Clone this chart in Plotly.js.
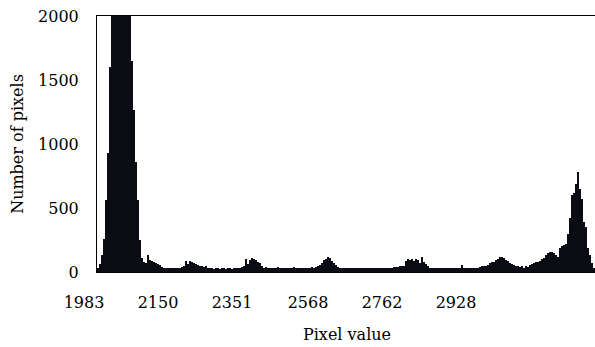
<!DOCTYPE html>
<html>
<head>
<meta charset="utf-8">
<script src="https://cdn.plot.ly/plotly-3.0.1.min.js"></script>
<style>
html,body{margin:0;padding:0;overflow:hidden;background:#fff;}
#chart{width:600px;height:347px;}
</style>
</head>
<body>
<div id="chart"></div>
<script>
// Histogram bin counts (bins ordered by pixel value, left to right)
const counts = [
  30, 60, 130, 260, 560, 930, 1600, 2050, 2300, 2600,
  2800, 2950, 3000, 2900, 2700, 2450, 2150, 1650, 1265, 860,
  560, 250, 110, 80, 70, 130, 90, 85, 75, 70,
  65, 55, 40, 35, 30, 28, 30, 28, 30, 32,
  30, 35, 40, 45, 85, 60, 85, 80, 70, 60,
  55, 45, 50, 40, 45, 35, 30, 30, 25, 35,
  28, 25, 30, 35, 25, 28, 30, 25, 30, 28,
  35, 30, 40, 45, 100, 60, 95, 110, 105, 95,
  80, 70, 45, 35, 40, 30, 35, 30, 28, 35,
  40, 30, 28, 32, 30, 35, 28, 30, 40, 30,
  28, 35, 30, 30, 28, 35, 30, 40, 35, 40,
  45, 55, 70, 95, 105, 115, 110, 85, 70, 55,
  40, 35, 30, 35, 28, 30, 35, 30, 28, 30,
  35, 28, 30, 32, 28, 30, 35, 30, 28, 30,
  32, 30, 28, 35, 30, 28, 32, 35, 40, 38,
  42, 45, 48, 50, 85, 100, 95, 105, 85, 100,
  90, 70, 115, 75, 60, 50, 35, 30, 28, 30,
  32, 28, 30, 28, 30, 32, 28, 30, 28, 30,
  28, 30, 55, 30, 28, 30, 30, 30, 35, 30,
  35, 40, 45, 50, 45, 55, 70, 80, 75, 95,
  100, 115, 120, 110, 95, 85, 70, 60, 55, 45,
  50, 40, 45, 35, 50, 40, 55, 60, 70, 80,
  75, 85, 100, 110, 130, 150, 160, 155, 150, 130,
  120, 185, 200, 210, 215, 300, 420, 600, 615, 690,
  785, 650, 570, 390, 350, 185, 130, 70, 30, 10
];
const binIndex = counts.map((_, i) => i);

// Category-axis tick labels (pixel values) and the bins they sit on
const tickLabels = ['1983', '2150', '2351', '2568', '2762', '2928'];
const tickBins = [0, 37, 74, 112, 149, 186];

const yTicks = [0, 500, 1000, 1500, 2000];

const font = {family: '"DejaVu Serif", "Liberation Serif", serif', size: 16, color: '#000'};

const trace = {
  type: 'bar',
  x: binIndex,
  y: counts,
  marker: {color: '#0b0b14', line: {width: 0}},
  hoverinfo: 'none'
};

const layout = {
  width: 600,
  height: 347,
  margin: {l: 97, r: 3, t: 16, b: 75},
  paper_bgcolor: '#fff',
  plot_bgcolor: '#fff',
  bargap: 0,
  showlegend: false,
  font: font,
  xaxis: {
    range: [-0.5, counts.length - 0.5],
    tickvals: tickBins,
    ticktext: tickLabels,
    ticks: '',
    ticklabelshift: -14,
    ticklabelstandoff: 16,
    showgrid: false,
    zeroline: false,
    showline: true,
    linecolor: '#000',
    linewidth: 1,
    mirror: true,
    tickfont: font,
    title: {text: 'Pixel value', font: font, standoff: 17}
  },
  yaxis: {
    range: [0, 2000],
    tickvals: yTicks,
    ticks: '',
    ticklabelstandoff: 14,
    showgrid: false,
    zeroline: false,
    showline: true,
    linecolor: '#000',
    linewidth: 1,
    mirror: true,
    tickfont: font,
    title: {text: 'Number of pixels', font: font, standoff: 10}
  }
};

Plotly.newPlot('chart', [trace], layout, {displayModeBar: false, staticPlot: true});
</script>
</body>
</html>
